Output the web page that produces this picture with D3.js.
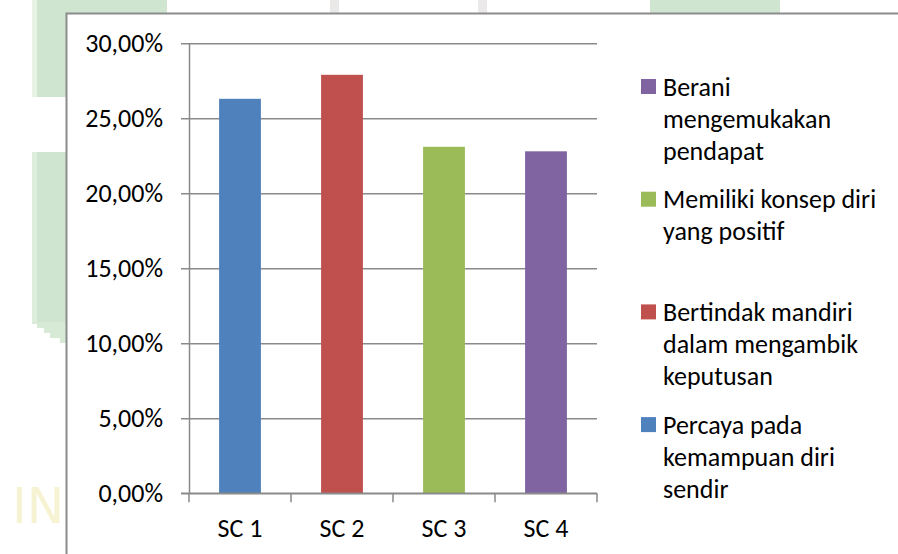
<!DOCTYPE html>
<html>
<head>
<meta charset="utf-8">
<script src="https://cdn.jsdelivr.net/npm/d3@7"></script>
<style>
  html, body { margin: 0; padding: 0; background: #ffffff; }
  svg { display: block; }
  text { font-family: Carlito, Lato, "Open Sans", sans-serif; fill: #000; }
</style>
</head>
<body>
<svg id="chart" width="898" height="554"></svg>
<script>
// Category labels and the share of each self-confidence indicator
const categories = ["SC 1", "SC 2", "SC 3", "SC 4"];
const values = [0.263, 0.279, 0.231, 0.228];

// Axis ticks
const yTicks = [0, 0.05, 0.10, 0.15, 0.20, 0.25, 0.30];
const yTickLabels = ["0,00%", "5,00%", "10,00%", "15,00%", "20,00%", "25,00%", "30,00%"];

// Legend entries, listed top to bottom (index into categories)
const legendOrder = [3, 2, 1, 0];
const legendLines = [
  ["Percaya pada", "kemampuan diri", "sendir"],
  ["Bertindak mandiri", "dalam mengambik", "keputusan"],
  ["Memiliki konsep diri", "yang positif"],
  ["Berani", "mengemukakan", "pendapat"]
];

const barColors = ["#4f81bd", "#c0504d", "#9bbb59", "#8064a2"];
const fontSize = "26px";

const svg = d3.select("#chart");

// --- page background bits showing around the chart frame ---
const bg = svg.append("g");
bg.append("rect").attr("x", 32).attr("y", 0).attr("width", 135).attr("height", 97).attr("fill", "#cfe5d0");
bg.append("rect").attr("x", 32).attr("y", 0).attr("width", 5).attr("height", 97).attr("fill", "#e6f3e5");
bg.append("rect").attr("x", 32).attr("y", 152).attr("width", 40).attr("height", 170).attr("fill", "#cfe5d0");
bg.append("rect").attr("x", 32).attr("y", 152).attr("width", 5).attr("height", 170).attr("fill", "#ddeedc");
bg.append("path").attr("d", "M32,322 L72,322 L72,343 L60,343 L60,338 L50,338 L50,333 L44,333 L44,328 L37,328 L37,324 L32,324 Z").attr("fill", "#d6ead6");
bg.append("rect").attr("x", 650).attr("y", 0).attr("width", 130).attr("height", 14).attr("fill", "#cfe5d0");
bg.append("rect").attr("x", 330).attr("y", 0).attr("width", 9).attr("height", 13).attr("fill", "#ebe8e8");
bg.append("rect").attr("x", 478).attr("y", 0).attr("width", 9).attr("height", 13).attr("fill", "#ebe9ea");
bg.append("text").attr("x", 12).attr("y", 523)
  .style("font-family", "'DejaVu Sans', sans-serif")
  .style("font-size", "50px").style("fill", "#f6f3d2").text("INS");

// --- chart frame ---
svg.append("rect")
  .attr("x", 66.5).attr("y", 13.5).attr("width", 900).attr("height", 600)
  .attr("fill", "#ffffff").attr("stroke", "#8c8c8c").attr("stroke-width", 2);

// --- scales ---
const x = d3.scaleBand().domain(categories).range([189, 597])
  .paddingInner(0.59).paddingOuter(0.295);
const y = d3.scaleLinear().domain([0, 0.30]).range([493.3, 43.3]);

const gridColor = "#8a8a8a";

// horizontal gridlines with their small left ticks
const yAxis = d3.axisLeft(y).tickValues(yTicks)
  .tickSize(-(597 - 189)).tickSizeOuter(0)
  .tickFormat((d, i) => yTickLabels[i]);
const gy = svg.append("g").attr("transform", "translate(189,0)").call(yAxis);
gy.select(".domain").attr("stroke", gridColor).attr("stroke-width", 1.5);
gy.selectAll(".tick line").attr("stroke", gridColor).attr("stroke-width", 1.5).attr("x1", -8);
gy.selectAll(".tick text").attr("x", -26).attr("dy", "0.33em")
  .style("font-size", fontSize).style("font-family", "Carlito, Lato, sans-serif");

// bars
svg.append("g").selectAll("rect").data(values).join("rect")
  .attr("x", (d, i) => x(categories[i]))
  .attr("y", d => y(d))
  .attr("width", x.bandwidth())
  .attr("height", d => y(0) - y(d))
  .attr("fill", (d, i) => barColors[i]);

// category axis: boundary ticks between bands
const gx = svg.append("g").attr("transform", `translate(0,${y(0)})`);
gx.append("line").attr("x1", 181).attr("x2", 597).attr("y1", 0).attr("y2", 0)
  .attr("stroke", gridColor).attr("stroke-width", 1.5);
const bounds = [189].concat(categories.map(c => x(c) + x.bandwidth() + x.step() * x.paddingInner() / 2));
bounds[bounds.length - 1] = 597;
gx.selectAll("line.tk").data(bounds).join("line").attr("class", "tk")
  .attr("x1", d => d).attr("x2", d => d).attr("y1", 0).attr("y2", 9)
  .attr("stroke", gridColor).attr("stroke-width", 1.5);
gx.selectAll("text").data(categories).join("text")
  .attr("x", d => x(d) + x.bandwidth() / 2)
  .attr("y", 44)
  .attr("text-anchor", "middle")
  .style("font-size", fontSize)
  .text(d => d);

// legend
const legend = svg.append("g");
legendOrder.forEach((ci, k) => {
  const top = 79 + k * 112.7;
  const g = legend.append("g");
  g.append("rect").attr("x", 641).attr("y", top).attr("width", 15).attr("height", 15)
    .attr("fill", barColors[ci]);
  g.selectAll("text").data(legendLines[ci]).join("text")
    .attr("x", 663)
    .attr("y", (d, j) => top + 16.5 + j * 32.2)
    .style("font-size", fontSize)
    .text(d => d);
});
</script>
</body>
</html>
